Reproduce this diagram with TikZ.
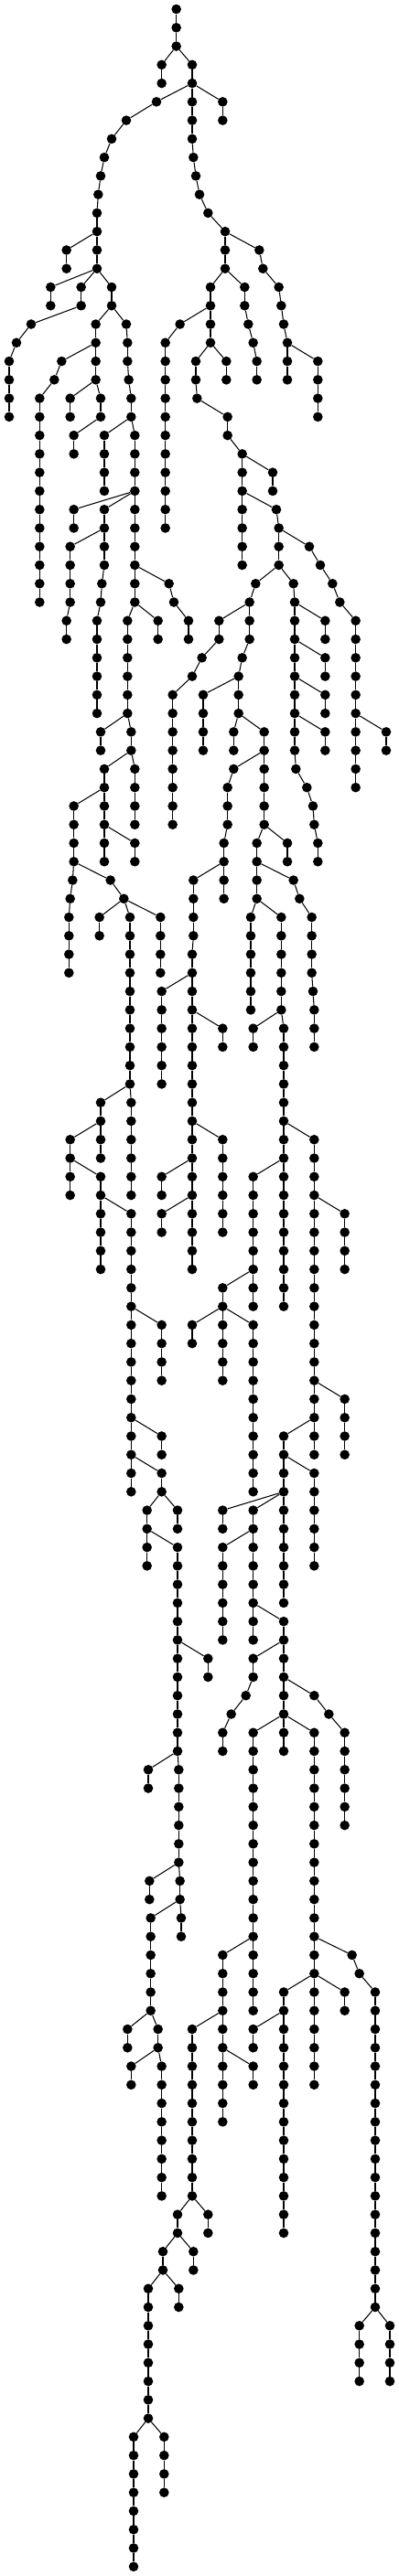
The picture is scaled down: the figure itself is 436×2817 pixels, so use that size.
\documentclass[tikz,border=0pt]{standalone}
\usepackage{tikz}
\tikzset{
  dot/.style={circle,fill=black,draw=none,inner sep=0pt,minimum size=10.6pt},
  edge/.style={draw=black,line width=1.05pt}
}
\newcommand\Lv[2]{%
  \pgfmathtruncatemacro\pl{#1-1}%
  \foreach \p/\c in {#2}{%
    \node[dot] (n#1-\c) at ({\c/3},{-(10+20.266*#1)}) {};
    \draw[edge] (n\pl-\p) -- (n#1-\c);
  }}
\begin{document}
\begin{tikzpicture}[x=1pt,y=1pt]
\useasboundingbox (0,0) rectangle (436,-2817);
\node[dot] (n0-578) at ({578/3},-10) {};
\Lv{1}{578/578}
\Lv{2}{578/578}
\Lv{3}{578/530, 578/630}
\Lv{4}{530/530, 630/630}
\Lv{5}{630/513, 630/630, 630/730}
\Lv{6}{513/414, 630/630, 730/730}
\Lv{7}{414/366, 630/630}
\Lv{8}{366/342, 630/634}
\Lv{9}{342/330, 634/642}
\Lv{10}{330/322, 642/654}
\Lv{11}{322/318, 654/682}
\Lv{12}{318/318, 682/738}
\Lv{13}{318/218, 318/318, 738/738, 738/850}
\Lv{14}{218/218, 318/318, 738/738, 850/862}
\Lv{15}{318/166, 318/266, 318/366, 738/690, 738/802, 862/914}
\Lv{16}{166/166, 266/266, 366/366, 690/690, 802/802, 914/922}
\Lv{17}{266/102, 366/314, 366/414, 690/590, 690/690, 802/814, 922/930}
\Lv{18}{102/54, 314/314, 414/418, 590/542, 690/690, 814/830, 930/942}
\Lv{19}{54/30, 314/202, 314/314, 418/418, 542/542, 690/642, 690/742, 830/842, 942/942, 942/1042}
\Lv{20}{30/30, 202/178, 314/314, 418/422, 542/542, 642/642, 742/742, 842/842, 942/942, 1042/1042}
\Lv{21}{30/30, 178/130, 314/230, 314/330, 422/430, 542/542, 642/646, 1042/1042}
\Lv{22}{30/30, 130/130, 230/230, 330/330, 430/430, 542/542, 646/746, 1042/1042}
\Lv{23}{130/130, 330/242, 430/342, 430/442, 542/542, 746/746}
\Lv{24}{130/130, 242/242, 342/342, 442/442, 542/542, 746/794}
\Lv{25}{130/130, 342/342, 442/442, 542/542, 794/794, 794/894}
\Lv{26}{130/130, 342/342, 442/442, 542/542, 794/794, 894/894}
\Lv{27}{130/130, 442/242, 442/342, 442/442, 542/542, 794/794, 794/906}
\Lv{28}{130/130, 242/242, 342/342, 442/442, 542/542, 794/794, 906/914}
\Lv{29}{130/130, 342/230, 342/342, 442/442, 794/794, 914/914, 914/1014}
\Lv{30}{130/130, 230/230, 342/342, 442/442, 794/794, 914/914, 1014/1050}
\Lv{31}{130/130, 230/230, 342/334, 442/442, 442/554, 914/838, 914/962, 1050/1090}
\Lv{32}{130/130, 230/230, 334/330, 442/442, 554/570, 838/818, 962/966, 1090/1114}
\Lv{33}{230/218, 330/318, 442/418, 442/518, 570/618, 818/718, 818/818, 966/966, 966/1066, 1114/1166}
\Lv{34}{218/218, 318/318, 418/418, 518/518, 618/618, 718/718, 818/818, 966/966, 1066/1066, 1166/1166}
\Lv{35}{318/318, 418/418, 718/662, 818/794, 966/966, 966/1066, 1166/1166}
\Lv{36}{318/318, 418/418, 662/630, 794/782, 966/966, 1066/1066, 1166/1166}
\Lv{37}{318/318, 418/418, 630/566, 782/666, 782/782, 966/966, 966/1066, 1166/1166}
\Lv{38}{318/318, 418/418, 566/566, 666/666, 782/782, 966/966, 1066/1066, 1166/1166}
\Lv{39}{418/330, 418/430, 566/566, 666/666, 782/766, 782/866, 966/966, 966/1066, 1166/1166, 1166/1266}
\Lv{40}{330/330, 430/430, 566/566, 666/666, 766/766, 866/866, 966/966, 1066/1066, 1166/1166, 1266/1266}
\Lv{41}{430/342, 430/442, 566/566, 866/766, 866/866, 966/970, 1166/1166}
\Lv{42}{342/342, 442/442, 566/566, 766/746, 866/866, 970/1006, 1166/1166}
\Lv{43}{342/242, 342/342, 442/442, 566/566, 746/746, 866/866, 1006/1026}
\Lv{44}{242/242, 342/342, 442/442, 566/566, 746/746, 866/866, 1026/1030}
\Lv{45}{242/242, 342/342, 342/442, 746/734, 866/842, 866/942, 1030/1042}
\Lv{46}{242/242, 342/342, 442/442, 734/734, 842/842, 942/942, 1042/1042}
\Lv{47}{242/238, 242/362, 734/634, 734/734, 842/842, 842/962}
\Lv{48}{238/230, 362/406, 634/634, 734/734, 842/842, 962/982}
\Lv{49}{230/226, 406/326, 406/426, 406/526, 634/634, 842/822, 842/922, 982/1022}
\Lv{50}{226/226, 326/326, 426/426, 526/526, 634/634, 822/822, 922/922, 1022/1022}
\Lv{51}{226/226, 426/426, 526/526, 634/630, 822/822, 922/922, 1022/1022}
\Lv{52}{226/226, 426/426, 526/526, 630/630, 822/822, 922/922, 1022/1022}
\Lv{53}{426/426, 630/530, 630/630, 822/822, 922/922, 1022/1026}
\Lv{54}{426/426, 530/530, 630/630, 822/822, 922/922, 1026/1030}
\Lv{55}{426/426, 530/530, 630/630, 630/730, 922/830, 922/930, 1030/1030}
\Lv{56}{426/426, 530/530, 630/630, 730/730, 830/830, 930/930, 1030/1030}
\Lv{57}{426/426, 530/530, 630/630, 930/930}
\Lv{58}{426/426, 530/530, 630/630, 930/930}
\Lv{59}{426/330, 426/430, 630/630, 930/930}
\Lv{60}{330/330, 430/430, 630/630, 930/930}
\Lv{61}{330/230, 330/330, 430/430, 630/630, 630/730, 930/930, 930/1030}
\Lv{62}{230/230, 330/330, 430/430, 630/630, 730/730, 930/930, 1030/1030}
\Lv{63}{230/230, 230/330, 430/430, 630/530, 630/630, 730/730, 930/830, 930/930, 1030/1030}
\Lv{64}{230/230, 330/330, 430/430, 530/530, 630/630, 730/730, 830/830, 930/930, 1030/1030}
\Lv{65}{330/330, 330/430, 630/530, 630/630, 730/730, 830/830, 930/930, 1030/1030, 1030/1130}
\Lv{66}{330/330, 430/430, 530/530, 630/630, 730/730, 830/830, 930/930, 1030/1030, 1130/1130}
\Lv{67}{330/330, 430/430, 630/630, 830/830, 930/930, 1030/1030, 1130/1130}
\Lv{68}{330/330, 430/430, 630/630, 830/830, 930/930, 1030/1030, 1130/1130}
\Lv{69}{430/430, 830/730, 830/830, 930/930, 1030/1030}
\Lv{70}{430/430, 730/730, 830/830, 930/930, 1030/1030}
\Lv{71}{430/430, 430/530, 730/630, 730/730, 730/830, 1030/1030}
\Lv{72}{430/430, 530/530, 630/630, 730/730, 830/830, 1030/1030}
\Lv{73}{430/430, 530/530, 730/730, 830/830, 1030/1030}
\Lv{74}{430/430, 530/530, 730/730, 830/830, 1030/1030}
\Lv{75}{430/430, 830/830, 1030/1030, 1030/1130}
\Lv{76}{430/430, 830/830, 1030/1030, 1130/1130}
\Lv{77}{430/430, 430/530, 830/830, 1030/930, 1030/1030, 1130/1130}
\Lv{78}{430/430, 530/530, 830/830, 930/930, 1030/1030, 1130/1130}
\Lv{79}{430/430, 430/530, 830/830, 930/930, 930/1030}
\Lv{80}{430/430, 530/530, 830/830, 930/930, 1030/1030}
\Lv{81}{530/482, 530/582, 930/730, 930/830, 930/930, 1030/1030}
\Lv{82}{482/482, 582/582, 730/730, 830/830, 930/930, 1030/1030}
\Lv{83}{482/482, 482/582, 830/730, 830/830, 930/930, 1030/1030}
\Lv{84}{482/482, 582/582, 730/730, 830/830, 930/930, 1030/1030}
\Lv{85}{582/582, 730/730, 830/830, 930/930}
\Lv{86}{582/582, 730/730, 830/830, 930/930}
\Lv{87}{582/582, 730/730, 830/830, 830/930}
\Lv{88}{582/582, 730/730, 830/830, 930/930}
\Lv{89}{582/582, 582/682, 930/830, 930/930}
\Lv{90}{582/582, 682/682, 830/830, 930/930}
\Lv{91}{582/582, 830/806, 930/930, 930/1030}
\Lv{92}{582/582, 806/758, 930/930, 1030/1078}
\Lv{93}{582/582, 758/730, 930/830, 930/930, 930/1030, 1078/1130}
\Lv{94}{582/582, 730/730, 830/830, 930/930, 1030/1030, 1130/1130}
\Lv{95}{582/486, 582/586, 830/830, 1030/1030, 1130/1130}
\Lv{96}{486/486, 586/586, 830/830, 1030/1030, 1130/1130}
\Lv{97}{586/586, 830/830, 1030/1030, 1130/1130}
\Lv{98}{586/586, 830/830, 1030/1030, 1130/1130}
\Lv{99}{586/586, 830/830, 1030/1030}
\Lv{100}{586/586, 830/830, 1030/1030}
\Lv{101}{586/490, 586/590, 830/830, 1030/1030}
\Lv{102}{490/490, 590/590, 830/830, 1030/1030}
\Lv{103}{590/494, 590/594, 830/830, 1030/1030}
\Lv{104}{494/494, 594/594, 830/830, 1030/1030}
\Lv{105}{494/494, 830/730, 830/830, 1030/1030, 1030/1154}
\Lv{106}{494/494, 730/730, 830/830, 1030/1030, 1154/1178}
\Lv{107}{494/494, 730/730, 830/830, 1030/930, 1030/1030, 1030/1130, 1178/1230}
\Lv{108}{494/494, 730/730, 830/830, 930/930, 1030/1030, 1130/1130, 1230/1230}
\Lv{109}{494/418, 494/518, 730/630, 730/730, 930/830, 930/930, 1030/1030, 1230/1230}
\Lv{110}{418/418, 518/518, 630/630, 730/730, 830/830, 930/930, 1030/1030, 1230/1230}
\Lv{111}{518/430, 518/530, 630/630, 730/730, 730/830, 930/930, 1030/1030, 1230/1230}
\Lv{112}{430/430, 530/530, 630/630, 730/730, 830/830, 930/930, 1030/1030, 1230/1230}
\Lv{113}{530/530, 630/630, 730/730, 930/930, 1230/1230}
\Lv{114}{530/530, 630/630, 730/730, 930/930, 1230/1230}
\Lv{115}{530/530, 630/630, 930/930, 1230/1230}
\Lv{116}{530/530, 630/630, 930/930, 1230/1230}
\Lv{117}{530/530, 630/630, 930/930, 1230/1230}
\Lv{118}{530/530, 630/630, 930/930, 1230/1230}
\Lv{119}{630/582, 630/682, 930/930, 1230/1230}
\Lv{120}{582/582, 682/682, 930/930, 1230/1230}
\Lv{121}{582/534, 582/634, 1230/1230}
\Lv{122}{534/534, 634/634, 1230/1230}
\Lv{123}{534/486, 534/586, 1230/1230}
\Lv{124}{486/486, 586/586, 1230/1230}
\Lv{125}{486/486, 1230/1178, 1230/1278}
\Lv{126}{486/486, 1178/1178, 1278/1278}
\Lv{127}{486/486, 1178/1178, 1278/1278}
\Lv{128}{486/486, 1178/1178, 1278/1278}
\Lv{129}{486/486}
\Lv{130}{486/486}
\Lv{131}{486/438, 486/538}
\Lv{132}{438/438, 538/538}
\Lv{133}{438/438, 538/538}
\Lv{134}{438/438, 538/538}
\Lv{135}{438/438}
\Lv{136}{438/438}
\Lv{137}{438/438}
\Lv{138}{438/438}
\end{tikzpicture}
\end{document}
